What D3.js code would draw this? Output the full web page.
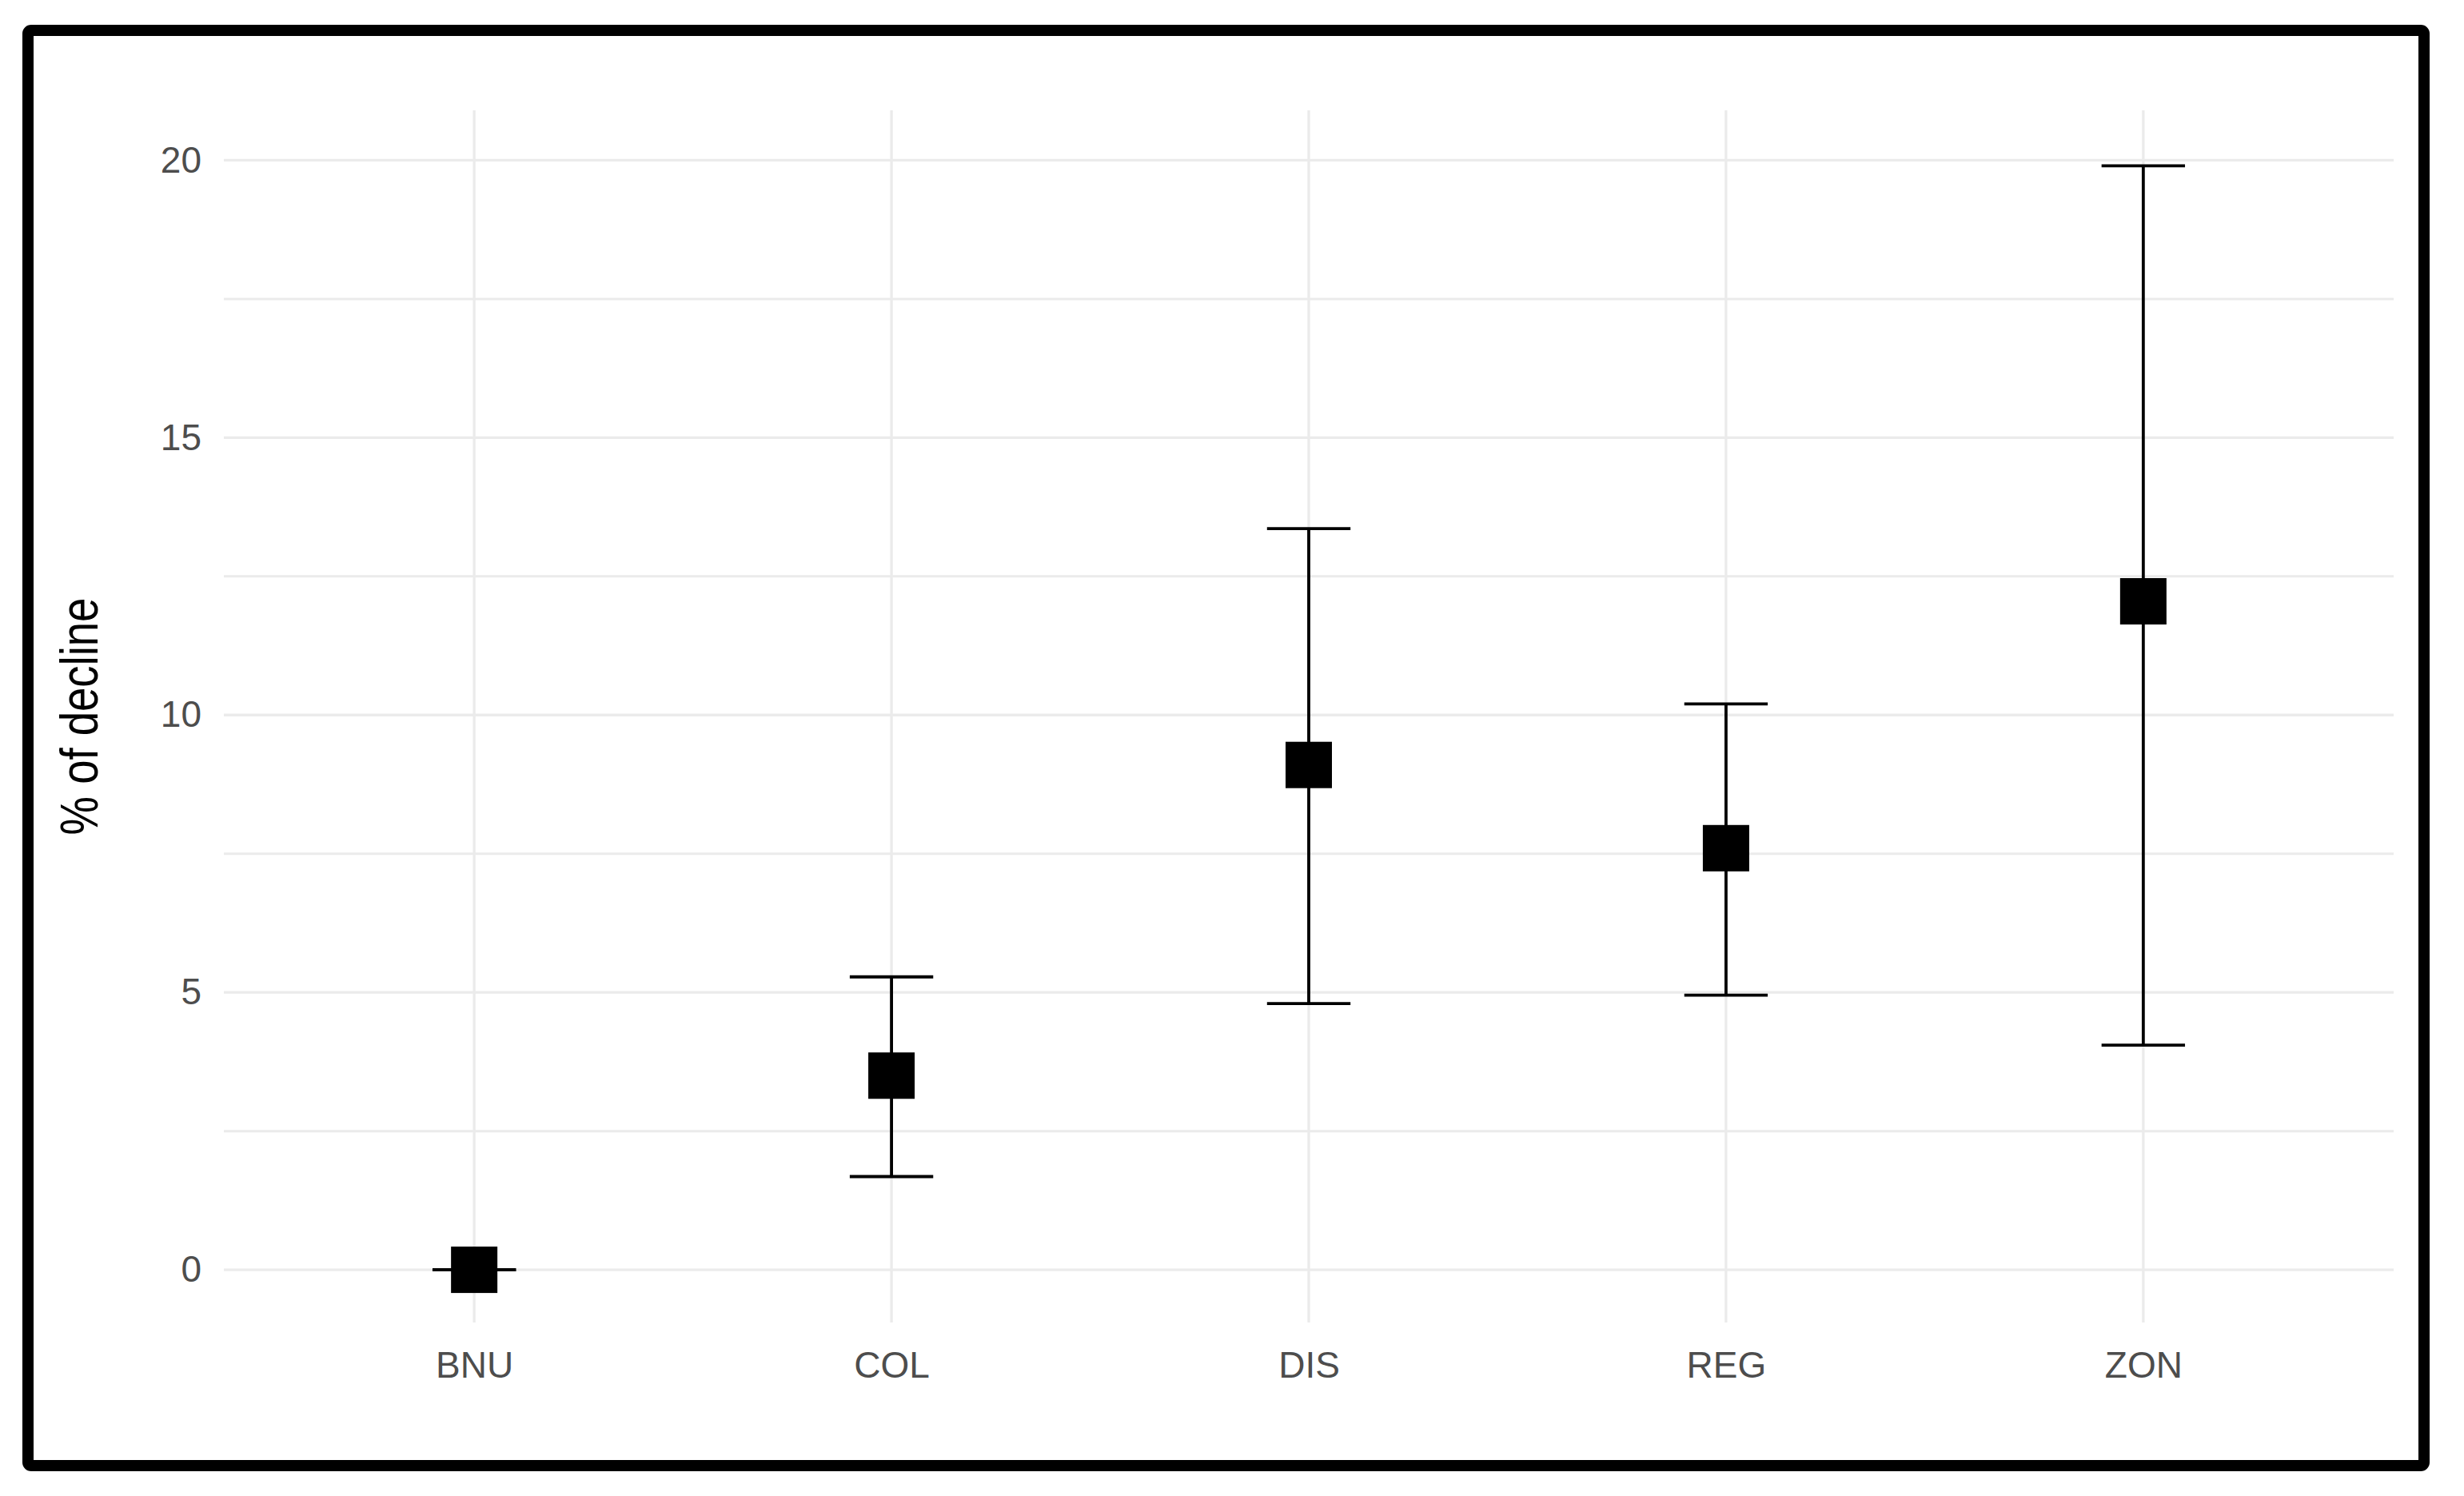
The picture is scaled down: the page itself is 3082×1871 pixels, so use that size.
<!DOCTYPE html>
<html>
<head>
<meta charset="utf-8">
<script src="https://cdn.jsdelivr.net/npm/d3@7"></script>
<style>
  html, body { margin: 0; padding: 0; background: #ffffff; }
  svg { display: block; }
</style>
</head>
<body>
<script>
// ---- data ----
const categories = ["BNU", "COL", "DIS", "REG", "ZON"];
const means      = [0.0, 3.5, 9.1, 7.6, 12.05];
const lowers     = [0.0, 1.68, 4.8, 4.95, 4.05];
const uppers     = [0.0, 5.28, 13.36, 10.2, 19.9];
const yTicks     = [0, 5, 10, 15, 20];
const yMinor     = [2.5, 7.5, 12.5, 17.5];
const yLabel     = "% of decline";

// ---- layout ----
const W = 3082, H = 1871;
const panel = { left: 280, right: 2994, top: 138, bottom: 1654 };

const svg = d3.select("body").append("svg")
  .attr("width", W).attr("height", H);

svg.append("rect").attr("x", 0).attr("y", 0).attr("width", W).attr("height", H).attr("fill", "#fff");

const x = d3.scalePoint().domain(categories).range([panel.left, panel.right]).padding(0.6);
const y = d3.scaleLinear().domain([-0.95, 20.9]).range([panel.bottom, panel.top]);

const gridColor = "#ebebeb";
const grid = svg.append("g");

// horizontal gridlines (minor + major)
grid.selectAll("line.hmin").data(yMinor).join("line")
  .attr("x1", panel.left).attr("x2", panel.right)
  .attr("y1", d => y(d)).attr("y2", d => y(d))
  .attr("stroke", gridColor).attr("stroke-width", 3);
grid.selectAll("line.hmaj").data(yTicks).join("line")
  .attr("class", "hmaj")
  .attr("x1", panel.left).attr("x2", panel.right)
  .attr("y1", d => y(d)).attr("y2", d => y(d))
  .attr("stroke", gridColor).attr("stroke-width", 3.3);
// vertical gridlines
grid.selectAll("line.v").data(categories).join("line")
  .attr("class", "v")
  .attr("x1", d => x(d)).attr("x2", d => x(d))
  .attr("y1", panel.top).attr("y2", panel.bottom)
  .attr("stroke", gridColor).attr("stroke-width", 3.3);

// axes
const yAxis = svg.append("g")
  .attr("transform", `translate(${panel.left},0)`)
  .call(d3.axisLeft(y).tickValues(yTicks).tickSize(0).tickPadding(28).tickFormat(d3.format("d")));
yAxis.select(".domain").remove();
yAxis.selectAll("text")
  .attr("fill", "#4d4d4d")
  .style("font-family", "'Liberation Sans', Arial, sans-serif")
  .style("font-size", "46px");

const xAxis = svg.append("g")
  .attr("transform", `translate(0,${panel.bottom})`)
  .call(d3.axisBottom(x).tickSize(0).tickPadding(36));
xAxis.select(".domain").remove();
xAxis.selectAll("text")
  .attr("fill", "#4d4d4d")
  .style("font-family", "'Liberation Sans', Arial, sans-serif")
  .style("font-size", "46px");

// y title
svg.append("text")
  .attr("transform", `translate(122, ${(panel.top + panel.bottom) / 2}) rotate(-90) scale(1,1.22)`)
  .attr("text-anchor", "middle")
  .attr("fill", "#000")
  .style("font-family", "'Liberation Sans', Arial, sans-serif")
  .style("font-size", "54.5px")
  .text(yLabel);

// error bars
const rows = categories.map((c, i) => ({ c, m: means[i], lo: lowers[i], hi: uppers[i] }));
const whisk = x.step() * 0.1;
const eb = svg.append("g").attr("stroke", "#000").attr("stroke-width", 3.8).attr("fill", "none");
eb.selectAll("line.stem").data(rows).join("line")
  .attr("class", "stem")
  .attr("x1", d => x(d.c)).attr("x2", d => x(d.c))
  .attr("y1", d => y(d.lo)).attr("y2", d => y(d.hi));
eb.selectAll("line.top").data(rows).join("line")
  .attr("class", "top")
  .attr("x1", d => x(d.c) - whisk).attr("x2", d => x(d.c) + whisk)
  .attr("y1", d => y(d.hi)).attr("y2", d => y(d.hi));
eb.selectAll("line.bot").data(rows).join("line")
  .attr("class", "bot")
  .attr("x1", d => x(d.c) - whisk).attr("x2", d => x(d.c) + whisk)
  .attr("y1", d => y(d.lo)).attr("y2", d => y(d.lo));

// points (squares)
const sq = 58;
svg.append("g").selectAll("rect").data(rows).join("rect")
  .attr("x", d => x(d.c) - sq / 2)
  .attr("y", d => y(d.m) - sq / 2)
  .attr("width", sq).attr("height", sq)
  .attr("fill", "#000");

// outer frame
svg.append("rect")
  .attr("x", 35).attr("y", 38)
  .attr("width", 2997).attr("height", 1795)
  .attr("rx", 4)
  .attr("fill", "none").attr("stroke", "#000").attr("stroke-width", 14);
</script>
</body>
</html>
